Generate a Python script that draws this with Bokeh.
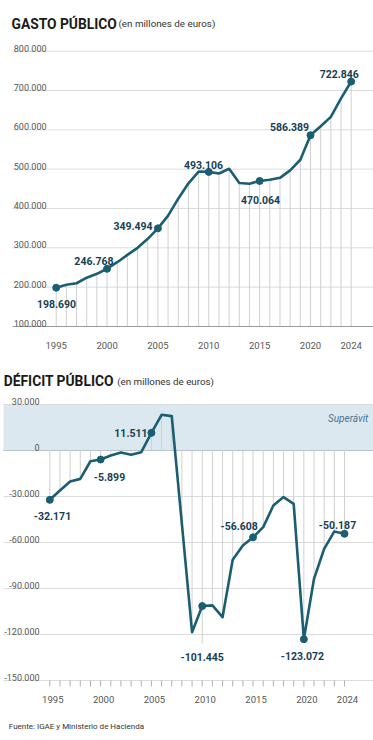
from bokeh.plotting import figure
from bokeh.models import Range1d
from bokeh.core.properties import value
from bokeh.embed import file_html
from bokeh.resources import INLINE

# ---------------- DATA ----------------
years = list(range(1995, 2025))

gasto = [198690, 206000, 210000, 224000, 234000, 246768, 263500, 282000, 300000, 323000,
         349494, 382000, 425000, 464000, 494000, 493106, 489000, 501000, 465000, 463000,
         470064, 473000, 478000, 497000, 524000, 586389, 609000, 633000, 680000, 722846]

deficit = [-32171, -26100, -20200, -18500, -7000, -5899, -3300, -1300, -2800, -1100,
           11511, 23300, 22400, -48000, -118500, -101445, -101000, -108700, -71300, -62000,
           -56608, -50000, -35900, -30400, -34800, -123072, -83700, -64100, -52800, -54300]

gasto_ticks = [100000, 200000, 300000, 400000, 500000, 600000, 700000, 800000]
gasto_tick_labels = ["100.000", "200.000", "300.000", "400.000", "500.000", "600.000", "700.000", "800.000"]
deficit_ticks = [-150000, -120000, -90000, -60000, -30000, 0, 30000]
deficit_tick_labels = ["-150.000", "-120.000", "-90.000", "-60.000", "-30.000", "0", "30.000"]
year_ticks = [1995, 2000, 2005, 2010, 2015, 2020, 2024]
year_tick_labels = ["1995", "2000", "2005", "2010", "2015", "2020", "2024"]

gasto_ann_years = [1995, 2000, 2005, 2010, 2015, 2020, 2024]
gasto_ann_labels = ["198.690", "246.768", "349.494", "493.106", "470.064", "586.389", "722.846"]
deficit_ann_years = [1995, 2000, 2005, 2010, 2015, 2020, 2024]
deficit_ann_labels = ["-32.171", "-5.899", "11.511", "-101.445", "-56.608", "-123.072", "-50.187"]

# ---------------- LAYOUT (pixel anchors) ----------------
W, H = 373, 732
TX0, TDX = 55.7, 10.172          # top chart: page x of 1995, px per year
TYB, TPPU = 326.0, 39.33 / 100000  # top chart: page y of 100000, px per unit
BX0, BDX = 49.3, 10.162
BYB, BPPU = 450.0, 46.0 / 30000    # bottom chart: page y of 0

def tx(px): return 1995 + (px - TX0) / TDX
def ty(py): return 100000 + (TYB - py) / TPPU
def bx(px): return 1995 + (px - BX0) / BDX
def by(py): return (BYB - py) / BPPU

LINE = "#1b5e72"
LABEL = "#163f55"
GRID = "#dcdcdc"
DROP = "#d0d0d0"
AXT = "#555555"
FONT = "Roboto"

p = figure(width=W, height=H, output_backend="svg", toolbar_location=None,
           x_range=Range1d(tx(0), tx(W)), y_range=Range1d(ty(H), ty(0)),
           x_axis_location=None, y_axis_location=None, min_border=0,
           outline_line_color=None, background_fill_color="white", border_fill_color="white")
p.extra_x_ranges = {"bx": Range1d(bx(0), bx(W))}
p.extra_y_ranges = {"by": Range1d(by(H), by(0))}
p.grid.visible = False

B = dict(x_range_name="bx", y_range_name="by")

# ---------------- TOP CHART ----------------
p.text(x=[tx(11)], y=[ty(23.3)], text=["GASTO PÚBLICO"], text_font=value(FONT),
       text_font_style="bold", text_font_size="13.8px", text_color="#1a1a1a", text_baseline="alphabetic")
p.text(x=[tx(118)], y=[ty(23.3)], text=["(en millones de euros)"], text_font=value(FONT),
       text_font_size="9.8px", text_color="#333333", text_baseline="alphabetic")

n = len(gasto_ticks)
p.segment(x0=[tx(12)] * (n - 1), x1=[tx(W)] * (n - 1), y0=gasto_ticks[1:], y1=gasto_ticks[1:],
          line_color=GRID, line_width=1)
p.segment(x0=years, x1=years, y0=[gasto_ticks[0]] * len(years), y1=gasto,
          line_color=DROP, line_width=1)
p.segment(x0=[tx(12)], x1=[tx(W)], y0=[gasto_ticks[0]], y1=[gasto_ticks[0]],
          line_color="#9a9a9a", line_width=1)
p.text(x=[tx(46)] * n, y=gasto_ticks, text=gasto_tick_labels, text_font=value(FONT),
       text_font_size="9px", text_color=AXT, text_align="right", text_baseline="alphabetic",
       y_offset=-3)
p.text(x=year_ticks, y=[ty(345)] * len(year_ticks), text=year_tick_labels, text_font=value(FONT),
       text_font_size="9.5px", text_color=AXT, text_align="center", text_baseline="alphabetic")

p.line(years, gasto, line_color=LINE, line_width=2.6, line_join="round")
gasto_ann_vals = [gasto[years.index(y)] for y in gasto_ann_years]
p.scatter(gasto_ann_years, gasto_ann_vals, size=7, fill_color=LINE, line_color=LINE)
top_dx = [0.3, -13.1, -24.9, -5.3, 0.9, -21, -11.9]
top_dy = [16.8, -7.3, -1.9, -7.1, 19.5, -8, -7.7]
p.text(x=gasto_ann_years, y=gasto_ann_vals, text=gasto_ann_labels, x_offset=top_dx, y_offset=top_dy,
       text_font=value(FONT), text_font_style="bold", text_font_size="10.5px", text_color=LABEL,
       text_align="center", text_baseline="alphabetic")

# ---------------- BOTTOM CHART ----------------
p.text(x=[bx(3.3)], y=[by(380.7)], text=["DÉFICIT PÚBLICO"], text_font=value(FONT),
       text_font_style="bold", text_font_size="13.8px", text_color="#1a1a1a", text_baseline="alphabetic", **B)
p.text(x=[bx(116.7)], y=[by(380.7)], text=["(en millones de euros)"], text_font=value(FONT),
       text_font_size="9.8px", text_color="#333333", text_baseline="alphabetic", **B)

p.quad(left=[bx(3)], right=[bx(W)], bottom=[0], top=[deficit_ticks[-1]],
       fill_color="#dce8f0", line_color=None, **B)
m = len(deficit_ticks)
p.segment(x0=[bx(3)] * m, x1=[bx(W)] * m, y0=deficit_ticks, y1=deficit_ticks,
          line_color=GRID, line_width=1, **B)
p.segment(x0=[bx(3)], x1=[bx(W)], y0=[0], y1=[0], line_color="#b8c4cc", line_width=1, **B)
p.segment(x0=years, x1=years, y0=[0] * len(years), y1=deficit, line_color=DROP, line_width=1, **B)
p.segment(x0=[2010], x1=[2010], y0=[deficit[years.index(2010)]], y1=[by(643)],
          line_color=DROP, line_width=1, **B)
p.segment(x0=years, x1=years, y0=[deficit_ticks[0]] * len(years), y1=[by(686)] * len(years),
          line_color="#b0b0b0", line_width=1, **B)
p.text(x=[bx(39)] * m, y=deficit_ticks, text=deficit_tick_labels, text_font=value(FONT),
       text_font_size="9px", text_color=AXT, text_align="right", text_baseline="alphabetic",
       y_offset=-3, **B)
p.text(x=year_ticks, y=[by(699)] * len(year_ticks), text=year_tick_labels, text_font=value(FONT),
       text_font_size="9.5px", text_color=AXT, text_align="center", text_baseline="alphabetic",
       x_offset=3, **B)
p.text(x=[bx(367.7)], y=[by(417.5)], text=["Superávit"], text_font=value(FONT),
       text_font_style="italic", text_font_size="10px", text_color="#4a7390",
       text_align="right", text_baseline="alphabetic", **B)

p.line(years, deficit, line_color=LINE, line_width=2.6, line_join="round", **B)
deficit_ann_vals = [deficit[years.index(y)] for y in deficit_ann_years]
p.scatter(deficit_ann_years, deficit_ann_vals, size=7, fill_color=LINE, line_color=LINE, **B)
bot_dx = [2.7, 8.9, -20.5, 0, -13.8, -1.4, -7]
bot_dy = [15.7, 17, 0.4, 50.5, -11.1, 17, -9]
p.text(x=deficit_ann_years, y=deficit_ann_vals, text=deficit_ann_labels, x_offset=bot_dx, y_offset=bot_dy,
       text_font=value(FONT), text_font_style="bold", text_font_size="10.5px", text_color=LABEL,
       text_align="center", text_baseline="alphabetic", **B)

p.text(x=[bx(8.3)], y=[by(726)], text=["Fuente: IGAE y Ministerio de Hacienda"], text_font=value(FONT),
       text_font_size="8px", text_color="#333333", text_baseline="alphabetic", **B)

open("out.html", "w").write(file_html(p, INLINE))
